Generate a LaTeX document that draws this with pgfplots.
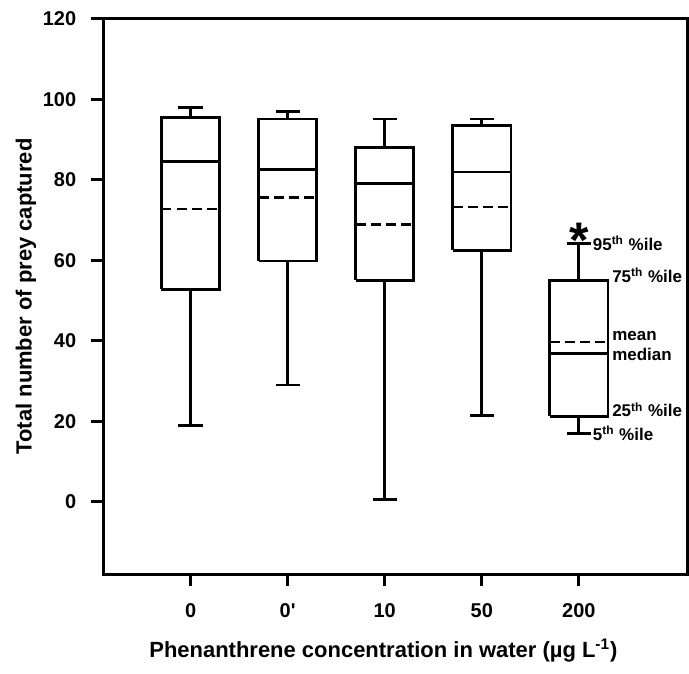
\documentclass[border=0pt]{standalone}
\usepackage{fontspec}
\setmainfont{Liberation Sans}
\usepackage{pgfplots}
\pgfplotsset{compat=1.18}

\begin{document}
\begin{tikzpicture}
\begin{axis}[
  scale only axis,
  width=292.5pt, height=278pt,
  xmin=-0.9, xmax=5.12,
  ymin=-18, ymax=120,
  ytick={0,20,...,120},
  xtick={0,1,2,3,4},
  xticklabels={0,0\textquotesingle,10,50,200},
  axis line style={line width=1.4pt},
  tick style={line width=1.4pt, black},
  tick align=outside,
  major tick length=6pt,
  xtick pos=bottom, ytick pos=left,
  /pgf/number format/assume math mode=true,
  tick label style={font=\bfseries\fontsize{10}{12}\selectfont},
  xticklabel style={yshift=-5pt},
  yticklabel style={xshift=-4pt},
  label style={font=\bfseries\fontsize{11}{13}\selectfont},
  xlabel={Phenanthrene concentration in water (µg L\textsuperscript{-1})},
  ylabel={Total number of prey captured},
  xlabel style={yshift=-4pt, xshift=-6pt},
  ylabel style={yshift=-3.5pt},
  clip=false,
  unbounded coords=jump,
  bx/.style={black, solid, line width=1.4pt, mark=none},
  mn/.style={black, line width=1.4pt, mark=none, dash pattern=on 5pt off 2.6pt},
]
% boxes (q1 to q3)
\addplot[bx] coordinates {(-0.3,52.8) (0.3,52.8) (0.3,95.5) (-0.3,95.5) (-0.3,52.8)};
\addplot[bx] coordinates {(0.7,59.8) (1.3,59.8) (1.3,95.1) (0.7,95.1) (0.7,59.8)};
\addplot[bx] coordinates {(1.7,55.0) (2.3,55.0) (2.3,88.1) (1.7,88.1) (1.7,55.0)};
\addplot[bx] coordinates {(2.7,62.5) (3.3,62.5) (3.3,93.4) (2.7,93.4) (2.7,62.5)};
\addplot[bx] coordinates {(3.7,21.2) (4.3,21.2) (4.3,54.9) (3.7,54.9) (3.7,21.2)};
% medians
\addplot[bx] coordinates {(-0.3,84.6) (0.3,84.6)};
\addplot[bx] coordinates {(0.7,82.5) (1.3,82.5)};
\addplot[bx] coordinates {(1.7,79.1) (2.3,79.1)};
\addplot[bx] coordinates {(2.7,81.9) (3.3,81.9)};
\addplot[bx] coordinates {(3.7,36.8) (4.3,36.8)};
% means
\addplot[mn] coordinates {(-0.3,72.7) (0.3,72.7)};
\addplot[mn] coordinates {(0.7,75.6) (1.3,75.6)};
\addplot[mn] coordinates {(1.7,68.9) (2.3,68.9)};
\addplot[mn] coordinates {(2.7,73.2) (3.3,73.2)};
\addplot[mn] coordinates {(3.7,39.7) (4.3,39.7)};
% whiskers (5th and 95th percentiles) with caps
\addplot[bx] coordinates {(-0.125,19.0) (0.125,19.0) (0,nan) (0,19.0) (0,52.8) (0,nan) (0,95.5) (0,98.0) (0,nan) (-0.125,98.0) (0.125,98.0)};
\addplot[bx] coordinates {(0.875,29.0) (1.125,29.0) (1,nan) (1,29.0) (1,59.8) (1,nan) (1,95.1) (1,97.0) (1,nan) (0.875,97.0) (1.125,97.0)};
\addplot[bx] coordinates {(1.875,0.5) (2.125,0.5) (2,nan) (2,0.5) (2,55.0) (2,nan) (2,88.1) (2,95.1) (2,nan) (1.875,95.1) (2.125,95.1)};
\addplot[bx] coordinates {(2.875,21.5) (3.125,21.5) (3,nan) (3,21.5) (3,62.5) (3,nan) (3,93.4) (3,95.1) (3,nan) (2.875,95.1) (3.125,95.1)};
\addplot[bx] coordinates {(3.875,16.9) (4.125,16.9) (4,nan) (4,16.9) (4,21.2) (4,nan) (4,54.9) (4,64.2) (4,nan) (3.875,64.2) (4.125,64.2)};

\begin{scope}[font=\bfseries\fontsize{8.5}{9}\selectfont, inner sep=0pt]
\node[anchor=west] at (axis cs:4.14,64.2) {95\textsuperscript{th} \%ile};
\node[anchor=west] at (axis cs:4.34,56.3) {75\textsuperscript{th} \%ile};
\node[anchor=west] at (axis cs:4.34,41.2) {mean};
\node[anchor=west] at (axis cs:4.34,36.6) {median};
\node[anchor=west] at (axis cs:4.34,22.8) {25\textsuperscript{th} \%ile};
\node[anchor=west] at (axis cs:4.14,17.0) {5\textsuperscript{th} \%ile};
\node at (axis cs:4,65.0) {\fontsize{25}{25}\selectfont *};
\end{scope}
\end{axis}
% white margins as in the reference
\path ([shift={(-4.5pt,-2.5pt)}]current bounding box.south west);
\path ([shift={(0pt,2.5pt)}]current bounding box.north east);
\end{tikzpicture}
\end{document}
